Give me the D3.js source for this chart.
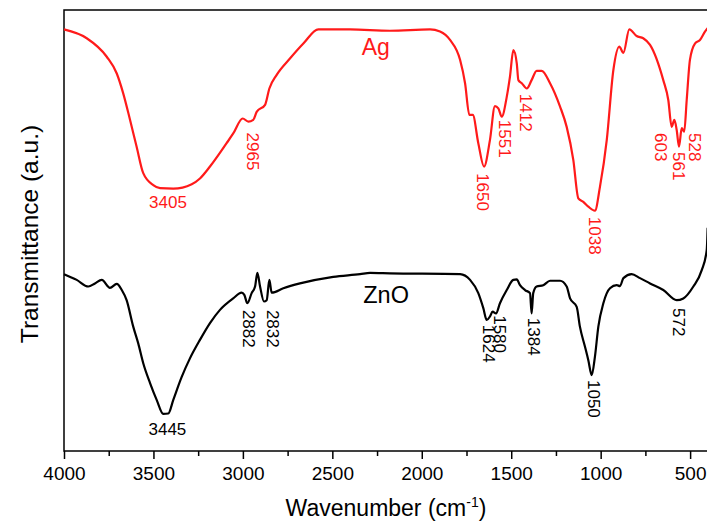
<!DOCTYPE html>
<html>
<head>
<meta charset="utf-8">
<script src="https://cdn.jsdelivr.net/npm/d3@7"></script>
<style>
  body { margin: 0; background: #fff; }
  text { font-family: "Liberation Sans", Arial, sans-serif; }
</style>
</head>
<body>
<div id="chart"></div>
<script>
// FTIR spectra, values (transmittance in arbitrary units)
const agWave = [4000, 3873, 3761, 3705, 3669, 3631, 3594, 3557, 3501, 3463, 3389, 3286, 3240, 3184, 3091, 3054,
    3001, 2970, 2942, 2923, 2876, 2852, 2811, 2737, 2662, 2578, 2401, 2178, 1954, 1898, 1842, 1786, 1758, 1734,
    1715, 1684, 1652, 1619, 1591, 1572, 1553, 1525, 1507, 1488, 1469, 1460, 1441, 1413, 1386, 1358, 1330, 1283,
    1227, 1190, 1153, 1125, 1097, 1069, 1032, 1004, 966, 929, 896, 873, 840, 799, 762, 724, 650, 622, 603, 588,
    575, 562, 547, 533, 519, 501, 473, 445, 417, 402];
const agTrans = [95.6, 93.6, 89.4, 85.6, 81.1, 75.1, 69.0, 63.0, 60.3, 59.6, 59.5, 60.5, 61.8, 64.5, 69.8, 72.0,
    75.4, 74.7, 75.1, 76.9, 78.5, 82.2, 85.3, 89.0, 92.4, 95.6, 95.6, 95.3, 95.6, 95.1, 93.2, 88.7, 83.4, 76.2,
    76.2, 69.8, 64.5, 70.5, 78.2, 77.7, 75.8, 80.3, 84.9, 90.9, 87.9, 84.1, 83.4, 82.2, 84.1, 86.2, 86.2, 83.4,
    78.1, 73.5, 66.0, 57.3, 56.5, 55.4, 54.5, 59.9, 70.5, 86.4, 91.7, 90.3, 95.6, 94.1, 93.6, 92.1, 84.1, 79.6, 73.5, 75.1,
    72.8, 69.0, 73.2, 72.4, 79.6, 88.7, 92.4, 93.2, 95.1, 95.9];

const znoWave = [4000, 3929, 3864, 3827, 3789, 3743, 3705, 3677, 3650, 3613, 3585, 3557, 3519, 3482, 3445, 3417,
    3389, 3342, 3296, 3240, 3184, 3128, 3054, 3007, 2992, 2975, 2951, 2932, 2919, 2904, 2882, 2867, 2852, 2839,
    2774, 2681, 2495, 2345, 2289, 2178, 1786, 1730, 1684, 1656, 1637, 1619, 1604, 1585, 1563, 1525, 1488, 1469,
    1451, 1423, 1395, 1386, 1377, 1358, 1321, 1283, 1227, 1190, 1171, 1134, 1116, 1088, 1069, 1050, 1032, 1013,
    985, 948, 910, 892, 873, 827, 780, 724, 650, 575, 538, 482, 435, 407, 402];
const znoTrans = [40.1, 38.8, 37.3, 38.0, 38.8, 37.0, 37.9, 36.5, 34.2, 28.2, 24.4, 19.9, 15.4, 11.6, 8.4, 8.5,
    11.6, 16.8, 21.0, 25.2, 29.0, 32.0, 34.6, 35.9, 35.4, 33.5, 35.8, 37.3, 40.4, 37.3, 33.9, 34.2, 38.8, 35.9,
    36.9, 38.0, 39.5, 40.1, 40.4, 40.3, 40.1, 38.8, 35.8, 32.4, 29.7, 30.5, 31.6, 31.2, 33.5, 36.5, 38.8, 38.9,
    37.6, 36.5, 35.8, 31.2, 35.8, 37.3, 37.6, 38.6, 38.6, 37.3, 34.6, 32.7, 28.2, 23.7, 20.6, 17.2, 21.4, 28.2,
    33.5, 36.9, 37.6, 37.4, 39.2, 40.1, 39.2, 38.0, 36.5, 34.2, 34.6, 37.3, 41.0, 45.6, 50.6];

// peak annotations: text, label centre (wavenumber), label top (transmittance)
const agPeakText = ["2965", "1650", "1551", "1412", "1038", "603", "561", "528"];
const agPeakWave = [2946, 1661, 1540, 1421, 1033, 668, 566, 477];
const agPeakTrans = [72.2, 63.0, 75.1, 81.0, 53.1, 72.1, 67.8, 72.1];

const znoPeakText = ["2882", "2832", "1624", "1580", "1384", "1050", "572"];
const znoPeakWave = [2966, 2837, 1628, 1563, 1377, 1041, 566];
const znoPeakTrans = [32.0, 32.0, 28.6, 30.8, 30.2, 16.1, 32.4];

const xTicks = [4000, 3500, 3000, 2500, 2000, 1500, 1000, 500];
const xMinorTicks = [3750, 3250, 2750, 2250, 1750, 1250, 750];

const
    margin = { top: 10, right: -1, bottom: 71, left: 64 },
    width = 707, height = 522,
    innerWidth = width - margin.left - margin.right,
    innerHeight = height - margin.top - margin.bottom;

const xScale = d3.scaleLinear().domain([4000, 400]).range([0, innerWidth]);
const yScale = d3.scaleLinear().domain([0, 100]).range([innerHeight, 0]);

const svg = d3.select("#chart")
    .append("svg")
    .attr("width", width)
    .attr("height", height);

const mainG = svg.append("g")
    .attr("transform", `translate(${margin.left},${margin.top})`);

// x axis, major + minor ticks
const xAxis = d3.axisBottom(xScale).tickValues(xTicks).tickSize(8).tickPadding(8).tickFormat(d3.format("d"));
const xMinor = d3.axisBottom(xScale).tickValues(xMinorTicks).tickSize(5).tickFormat("");

const gx = mainG.append("g")
    .attr("transform", `translate(0,${innerHeight})`)
    .call(xAxis);
gx.select(".domain").remove();
gx.selectAll("line").attr("stroke", "#000").attr("stroke-width", 1.5);
gx.selectAll("text").attr("font-size", 19).attr("fill", "#000")
    .style("font-family", '"Liberation Sans", Arial, sans-serif');

const gxm = mainG.append("g")
    .attr("transform", `translate(0,${innerHeight})`)
    .call(xMinor);
gxm.select(".domain").remove();
gxm.selectAll("line").attr("stroke", "#000").attr("stroke-width", 1.5);

// frame
mainG.append("rect")
    .attr("width", innerWidth)
    .attr("height", innerHeight)
    .attr("fill", "none")
    .attr("stroke", "#000")
    .attr("stroke-width", 1.5);

const line = d3.line()
    .x(d => xScale(d[0]))
    .y(d => yScale(d[1]))
    .curve(d3.curveMonotoneX);

const series = [
    { name: "Ag", color: "#ff1a1a", pts: d3.zip(agWave, agTrans) },
    { name: "ZnO", color: "#000", pts: d3.zip(znoWave, znoTrans) }
];

mainG.selectAll("path.spec")
    .data(series)
    .enter()
    .append("path")
    .attr("class", "spec")
    .attr("fill", "none")
    .attr("stroke", d => d.color)
    .attr("stroke-width", 2.2)
    .attr("stroke-linejoin", "round")
    .attr("d", d => line(d.pts));

// vertical peak labels, reading top to bottom
function peakLabels(text, wave, trans, color) {
    mainG.append("g")
        .selectAll("text")
        .data(d3.range(text.length))
        .enter()
        .append("text")
        .attr("x", i => xScale(wave[i]))
        .attr("y", i => yScale(trans[i]))
        .style("writing-mode", "vertical-rl")
        .attr("font-size", 17)
        .attr("fill", color)
        .text(i => text[i]);
}
peakLabels(agPeakText, agPeakWave, agPeakTrans, "#ff1a1a");
peakLabels(znoPeakText, znoPeakWave, znoPeakTrans, "#000");

// horizontal labels for the broad O-H bands
mainG.append("text")
    .attr("x", xScale(3419)).attr("y", yScale(55.1))
    .attr("text-anchor", "middle").attr("font-size", 17).attr("fill", "#ff1a1a")
    .text("3405");
mainG.append("text")
    .attr("x", xScale(3422)).attr("y", yScale(3.6))
    .attr("text-anchor", "middle").attr("font-size", 17).attr("fill", "#000")
    .text("3445");

// series names
mainG.append("text")
    .attr("x", xScale(2336)).attr("y", yScale(89.8))
    .attr("font-size", 23).attr("fill", "#ff1a1a")
    .text("Ag");
mainG.append("text")
    .attr("x", xScale(2327)).attr("y", yScale(33.6))
    .attr("font-size", 23.5).attr("fill", "#000")
    .text("ZnO");

// axis titles
const xTitle = svg.append("text")
    .attr("x", margin.left + innerWidth / 2)
    .attr("y", 516)
    .attr("text-anchor", "middle")
    .attr("font-size", 23)
    .attr("fill", "#000")
    .text("Wavenumber (cm");
xTitle.append("tspan").attr("dy", -9).attr("font-size", 14).text("-1");
xTitle.append("tspan").attr("dy", 9).text(")");

svg.append("text")
    .attr("transform", "translate(38,234) rotate(-90)")
    .attr("text-anchor", "middle")
    .attr("font-size", 24.5)
    .attr("fill", "#000")
    .text("Transmittance (a.u.)");
</script>
</body>
</html>
